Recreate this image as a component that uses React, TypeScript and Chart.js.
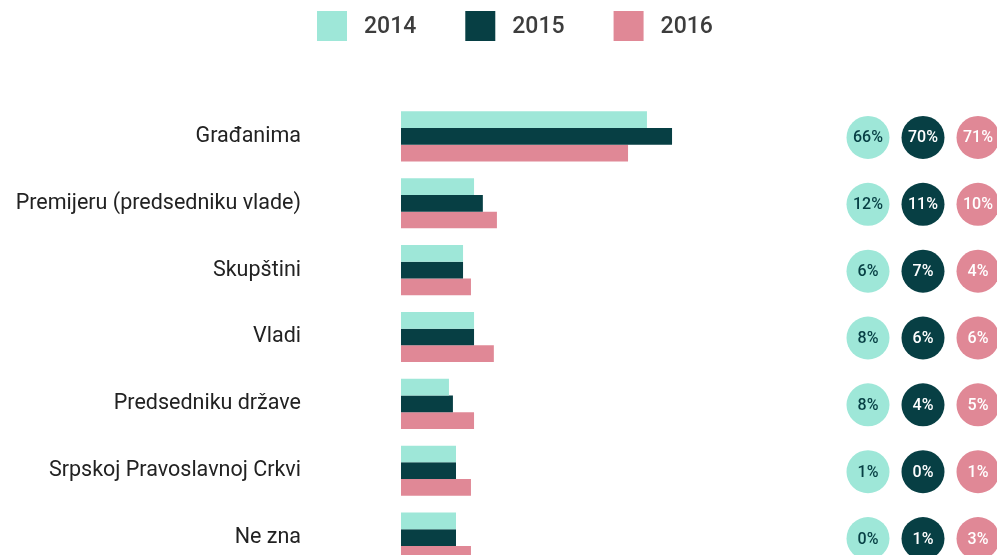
import React, { useEffect, useRef } from "react";
import { Chart, registerables } from "chart.js";

Chart.register(...registerables);

const categories = [
  "Građanima",
  "Premijeru (predsedniku vlade)",
  "Skupštini",
  "Vladi",
  "Predsedniku države",
  "Srpskoj Pravoslavnoj Crkvi",
  "Ne zna",
];
const years = ["2014", "2015", "2016"];
const bars2014 = [55.9, 16.6, 14.1, 16.6, 10.9, 12.5, 12.5];
const bars2015 = [61.6, 18.6, 14.1, 16.6, 11.8, 12.5, 12.5];
const bars2016 = [51.6, 21.8, 15.9, 21.1, 16.6, 15.9, 15.9];
const pct2014 = ["66%", "12%", "6%", "8%", "8%", "1%", "0%"];
const pct2015 = ["70%", "11%", "7%", "6%", "4%", "0%", "1%"];
const pct2016 = ["71%", "10%", "4%", "6%", "5%", "1%", "3%"];

const colors = ["#9ee7d8", "#073f44", "#e08896"];
const circleText = ["#073f44", "#ffffff", "#ffffff"];
const FONT = "Roboto";

const legendPlugin = {
  id: "customLegend",
  afterDraw(chart: any) {
    const ctx = chart.ctx;
    ctx.save();
    ctx.font = `500 23px ${FONT}`;
    ctx.textBaseline = "middle";
    ctx.textAlign = "left";
    let x = 317;
    chart.data.datasets.forEach((ds: any) => {
      ctx.fillStyle = ds.backgroundColor;
      ctx.fillRect(x, 11, 30, 30);
      ctx.fillStyle = "#3d3d3d";
      ctx.fillText(ds.label, x + 47, 27);
      x += 47 + ctx.measureText(ds.label).width + 49;
    });
    ctx.restore();
  },
};

const circlesPlugin = {
  id: "pctCircles",
  afterDatasetsDraw(chart: any) {
    const ctx = chart.ctx;
    const yScale = chart.scales.y;
    const pcts = [pct2014, pct2015, pct2016];
    ctx.save();
    ctx.font = `500 16px ${FONT}`;
    ctx.textAlign = "center";
    ctx.textBaseline = "middle";
    pcts.forEach((arr, i) => {
      const cx = chart.chartArea.right + 27 + i * 55;
      arr.forEach((t, j) => {
        const cy = yScale.getPixelForValue(j) + 1;
        ctx.beginPath();
        ctx.arc(cx, cy, 21.5, 0, Math.PI * 2);
        ctx.fillStyle = colors[i];
        ctx.fill();
        ctx.fillStyle = circleText[i];
        ctx.fillText(t, cx, cy + 1);
      });
    });
    ctx.restore();
  },
};

export default function App() {
  const ref = useRef<HTMLCanvasElement | null>(null);
  useEffect(() => {
    if (!ref.current) return;
    const chart = new Chart(ref.current, {
      type: "bar",
      data: {
        labels: categories,
        datasets: [
          { label: years[0], data: bars2014, backgroundColor: colors[0] },
          { label: years[1], data: bars2015, backgroundColor: colors[1] },
          { label: years[2], data: bars2016, backgroundColor: colors[2] },
        ],
      },
      options: {
        indexAxis: "y",
        animation: false,
        responsive: false,
        layout: { padding: { top: 103, right: 156, bottom: 4, left: 0 } },
        datasets: { bar: { categoryPercentage: 0.75, barPercentage: 1 } },
        plugins: { legend: { display: false }, tooltip: { enabled: false } },
        scales: {
          x: { display: false, min: 0, max: 100 },
          y: {
            grid: { display: false, drawTicks: false },
            border: { display: false },
            ticks: { padding: 100, color: "#222222", font: { family: FONT, size: 21.5 } },
            afterFit(scale: any) {
              scale.width = 401;
              scale.paddingTop = 0;
              scale.paddingBottom = 0;
            },
          },
        },
      },
      plugins: [legendPlugin, circlesPlugin],
    });
    return () => chart.destroy();
  }, []);
  return (
    <div style={{ position: "absolute", left: 0, top: 0, width: 997, height: 555, overflow: "hidden", background: "#fff" }}>
      <canvas ref={ref} width={997} height={575} style={{ display: "block", width: 997, height: 575 }} />
    </div>
  );
}
